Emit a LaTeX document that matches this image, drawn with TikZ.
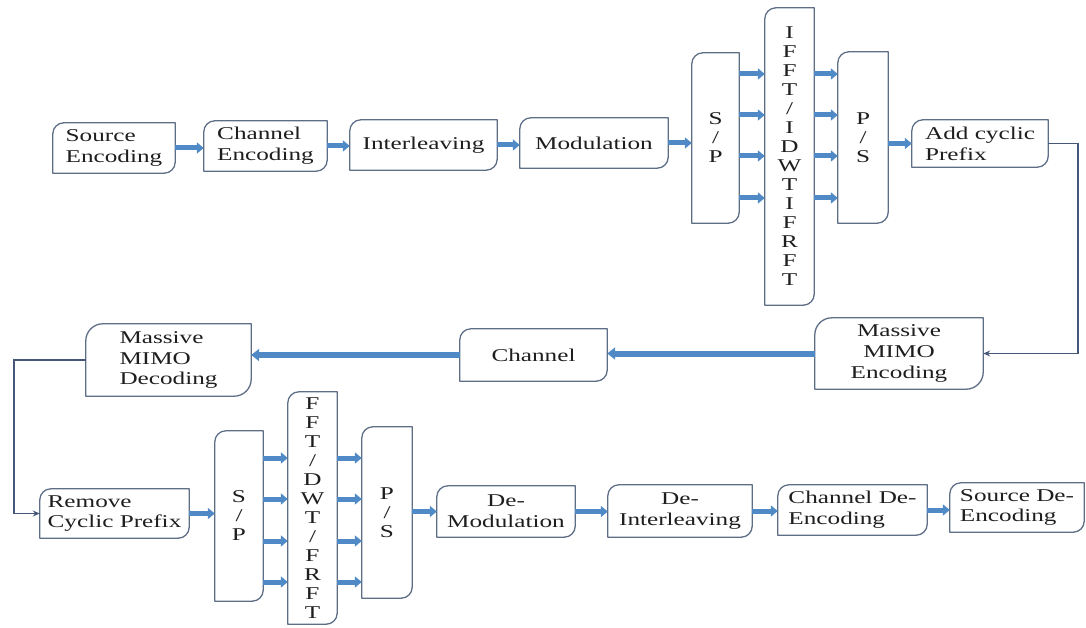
\documentclass[tikz,border=0pt]{standalone}
\usepackage{fontspec}
\setmainfont{Liberation Serif}[FakeStretch=1.4]
\usetikzlibrary{arrows.meta}

\definecolor{edgegray}{HTML}{5E6E86}
\definecolor{flowblue}{HTML}{4F8AC6}
\definecolor{wirenavy}{HTML}{46577A}
\definecolor{inktext}{HTML}{1E1E1E}

\tikzset{
  textbox/.style={inner sep=0pt, text=inktext,
    font=\fontsize{18}{20.7}\selectfont},
  stackbox/.style={textbox, align=center,
    font=\fontsize{18}{19}\selectfont},
  frame/.style={draw=edgegray, line width=1.3pt, line join=round},
  flow/.style={draw=flowblue, line width=5pt,
    -{Triangle[length=7pt,width=11pt]}},
  trunk/.style={draw=flowblue, line width=6pt,
    -{Triangle[length=8pt,width=12pt]}},
  wire/.style={draw=wirenavy, line width=1.3pt,
    -{Stealth[length=7pt,width=6pt]}},
}

% name, x1, y1, x2, y2, options, text
\newcommand\flowbox[7]{%
  \node[textbox,#6,minimum width={(#4-#2)*1pt},minimum height={(#5-#3)*1pt}]
    (#1) at ({(#2+#4)/2},{(#3+#5)/2}) {#7};}
% outline with rounded top-left and bottom-right corners
\newcommand\flowframe[2]{%
  \draw[frame] ([yshift=-#2]#1.north west)
      .. controls ([yshift=-0.45*#2]#1.north west) and ([xshift=0.45*#2]#1.north west)
      .. ([xshift=#2]#1.north west)
      -- (#1.north east)
      -- ([yshift=#2]#1.south east)
      .. controls ([yshift=0.45*#2]#1.south east) and ([xshift=-0.45*#2]#1.south east)
      .. ([xshift=-#2]#1.south east)
      -- (#1.south west) -- cycle;}

\begin{document}
\begin{tikzpicture}[x=1pt,y=-1pt]
\path[use as bounding box] (0,0) rectangle (1086,628);

% transmitter chain
\flowbox{src}{53}{123}{175}{173}{align=left}{Source\\Encoding}
\flowbox{chenc}{204}{121}{327}{171}{align=left}{Channel\\Encoding}
\flowbox{intl}{350}{120}{497}{170}{align=center}{Interleaving}
\flowbox{mod}{520}{118}{668}{168}{align=center}{Modulation}
\flowbox{sp1}{692}{53}{739}{223}{stackbox}{S\\/\\P}
\flowbox{ifft}{765}{8}{814}{305}{stackbox}{I\\F\\F\\T\\/\\I\\D\\W\\T\\I\\F\\R\\F\\T}
\flowbox{ps1}{838}{52}{888}{223}{stackbox}{P\\/\\S}
\flowbox{acp}{912}{120}{1048}{167}{align=left}{Add cyclic\\Prefix}

% channel section
\flowbox{mme}{815}{318}{983}{389}{align=center}{Massive\\MIMO\\Encoding}
\flowbox{chan}{460}{329}{607}{381}{align=center}{Channel}
\flowbox{mmd}{86}{324}{251}{396}{align=left}{Massive\\MIMO\\Decoding}

% receiver chain
\flowbox{rcp}{40}{489}{189}{538}{align=left}{Remove\\Cyclic Prefix}
\flowbox{sp2}{215}{431}{263}{601}{stackbox}{S\\/\\P}
\flowbox{fft}{288}{392}{337}{624}{stackbox}{F\\F\\T\\/\\D\\W\\T\\/\\F\\R\\F\\T}
\flowbox{ps2}{362}{427}{412}{598}{stackbox}{P\\/\\S}
\flowbox{dmod}{437}{486}{575}{537}{align=center}{De-\\Modulation}
\flowbox{dint}{608}{485}{752}{537}{align=center}{De-\\Interleaving}
\flowbox{cde}{778}{485}{927}{535}{align=left}{Channel De-\\Encoding}
\flowbox{sde}{950}{483}{1084}{532}{align=left}{Source De-\\Encoding}

\foreach \n in {src,chenc,intl,mod,sp1,ifft,ps1,acp,chan,rcp,sp2,fft,ps2,dmod,dint,cde,sde}
  {\flowframe{\n}{11pt}}
\flowframe{mme}{17pt}
\flowframe{mmd}{17pt}

% serial flow arrows
\draw[flow] (src.east) -- (src.east -| chenc.west);
\draw[flow] (chenc.east) -- (chenc.east -| intl.west);
\draw[flow] (intl.east) -- (intl.east -| mod.west);
\draw[flow] (mod.east) -- (mod.east -| sp1.west);
\draw[flow] (acp.west -| ps1.east) -- (acp.west);

\draw[flow] (rcp.east) -- (rcp.east -| sp2.west);
\draw[flow] (dmod.west -| ps2.east) -- (dmod.west);
\draw[flow] (dmod.east) -- (dmod.east -| dint.west);
\draw[flow] (dint.east) -- (dint.east -| cde.west);
\draw[flow] (cde.east) -- (cde.east -| sde.west);

% parallel branches
\foreach \yy in {74,115,156,198} {
  \draw[flow] (sp1.east |- 0,\yy) -- (ifft.west |- 0,\yy);
  \draw[flow] (ifft.east |- 0,\yy) -- (ps1.west |- 0,\yy);
}
\foreach \yy in {458,499,541,582} {
  \draw[flow] (sp2.east |- 0,\yy) -- (fft.west |- 0,\yy);
  \draw[flow] (fft.east |- 0,\yy) -- (ps2.west |- 0,\yy);
}

% channel trunk
\draw[trunk] (mme.west) -- (mme.west -| chan.east);
\draw[trunk] (chan.west) -- (chan.west -| mmd.east);

% loop-back wires
\coordinate (rightrail) at (1078,0);
\coordinate (leftrail) at (14,0);
\draw[wire] (acp.east) -- (acp.east -| rightrail) |- (mme.east);
\draw[wire] (mmd.west) -- (mmd.west -| leftrail) |- (rcp.west);
\end{tikzpicture}
\end{document}
